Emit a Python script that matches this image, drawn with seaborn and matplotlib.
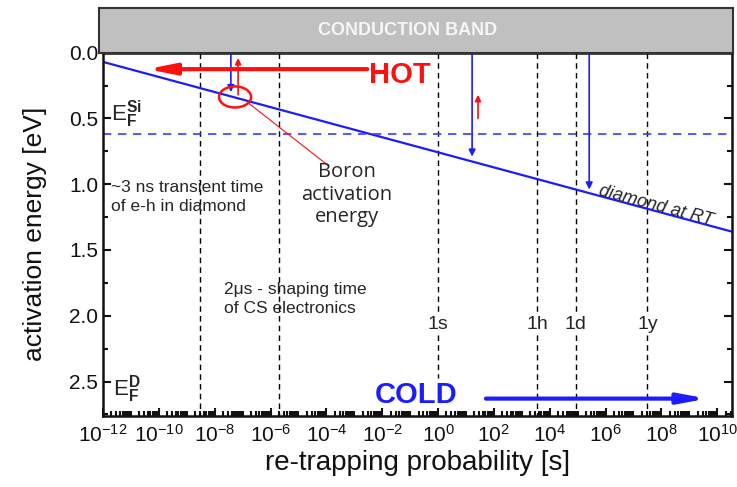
import numpy as np
import matplotlib
matplotlib.use('Agg')
import matplotlib.pyplot as plt
from matplotlib.patches import Ellipse
from matplotlib.ticker import FixedLocator, LogLocator, LogFormatterSciNotation, MultipleLocator, NullFormatter
import seaborn as sns

# Passo 1
tempo_diamante = [1e-12, 3.3e10]       # re-trapping probability [s]
energia_diamante = [0.07, 1.36]        # activation energy [eV] (diamond at RT)
energia_fermi_si = 0.62                # E_F^Si

tempos_ref = [3e-9, 2e-6, 1, 3600, 86400, 3.15e7]   # linhas verticais
rotulos_ref = ['', '', '1s', '1h', '1d', '1y']
fim_ref = [2.76, 2.76, 2.47, 2.76, 2.76, 2.76]

# setas verticais (tempo, energia inicial, energia final)
setas_azuis_t = [3.8e-8, 16.6, 2.6e5]
setas_azuis_fim = [0.30, 0.79, 1.04]
setas_vermelhas_t = [6.9e-8, 27]
setas_vermelhas_ini = [0.32, 0.50]
setas_vermelhas_fim = [0.04, 0.32]

# setas HOT / COLD
hot_t = [2.9e-3, 3.8e-11]
hot_e = 0.125
cold_t = [52, 4.3e9]
cold_e = 2.63

ticks_x = [10.0 ** k for k in range(-12, 11, 2)]
ticks_y = [0.0, 0.5, 1.0, 1.5, 2.0, 2.5]

# Passo 2 - Estilo
sns.set_style('ticks')
plt.rcParams['font.family'] = ['Liberation Sans', 'DejaVu Sans']
plt.rcParams['mathtext.fontset'] = 'custom'
plt.rcParams['mathtext.rm'] = 'Liberation Sans'
plt.rcParams['mathtext.bf'] = 'Liberation Sans:bold'
plt.rcParams['mathtext.it'] = 'Liberation Sans:italic'

azul = '#1c1cff'
vermelho = '#ff1010'

fig = plt.figure(figsize=(7.37, 4.87), dpi=100)
ax = fig.add_axes([0.1398, 0.1464, 0.853, 0.7454])

# Passo 3 - Linhas principais
sns.lineplot(x=tempo_diamante, y=energia_diamante, ax=ax, color=azul, lw=1.6)
ax.axhline(energia_fermi_si, color='#3a3aff', ls=(0, (5, 4)), lw=1.2)

for t, rot, fim in zip(tempos_ref, rotulos_ref, fim_ref):
    ax.vlines(t, 0, fim, color='k', ls=(0, (4, 3)), lw=1.0, zorder=1)
    if rot:
        ax.text(t, 2.07, rot, ha='center', va='center', fontsize=14,
                bbox=dict(fc='white', ec='none', pad=0.5), zorder=2)

# setas finas
for t, fim in zip(setas_azuis_t, setas_azuis_fim):
    ax.annotate('', xy=(t, fim), xytext=(t, 0.0),
                arrowprops=dict(arrowstyle='-|>', color=azul, lw=1.2,
                                mutation_scale=10, shrinkA=0, shrinkB=0))
for t, ini, fim in zip(setas_vermelhas_t, setas_vermelhas_ini, setas_vermelhas_fim):
    ax.annotate('', xy=(t, fim), xytext=(t, ini),
                arrowprops=dict(arrowstyle='-|>', color=vermelho, lw=1.2,
                                mutation_scale=9, shrinkA=0, shrinkB=0))

# HOT e COLD
ax.annotate('', xy=(hot_t[1], hot_e), xytext=(hot_t[0], hot_e),
            arrowprops=dict(arrowstyle='-|>,head_length=1.6,head_width=0.32', color=vermelho,
                            lw=3, mutation_scale=10, shrinkA=0, shrinkB=0))
ax.text(3.3e-3, 0.17, 'HOT', color=vermelho, fontsize=21, fontweight='bold', ha='left', va='center')
ax.annotate('', xy=(cold_t[1], cold_e), xytext=(cold_t[0], cold_e),
            arrowprops=dict(arrowstyle='-|>,head_length=1.6,head_width=0.3', color=azul,
                            lw=3, mutation_scale=10, shrinkA=0, shrinkB=0))
ax.text(5.5e-3, 2.60, 'COLD', color=azul, fontsize=21, fontweight='bold', ha='left', va='center')

# elipse e texto do Boro
ax.add_patch(Ellipse((0.21, 0.878), 0.051, 0.058, transform=ax.transAxes,
                     fill=False, ec=vermelho, lw=1.8, zorder=5))
ax.annotate('', xy=(1.45e-7, 0.375), xytext=(1.2e-4, 0.86),
            arrowprops=dict(arrowstyle='-', color=vermelho, lw=0.8, shrinkA=0, shrinkB=0))
ax.text(5.5e-4, 1.08, 'Boron\nactivation\nenergy', ha='center', va='center',
        fontsize=14.5, family=['Open Sans', 'DejaVu Sans'], linespacing=1.15)

# textos
ax.text(2.0e-12, 0.47, r'$\mathregular{E}_{\mathbf{F}}^{\mathbf{Si}}$', fontsize=16, ha='left', va='center')
ax.text(2.3e-12, 2.56, r'$\mathregular{E}_{\mathbf{F}}^{\mathbf{D}}$', fontsize=16, ha='left', va='center')
ax.text(1.9e-12, 1.10, '~3 ns transient time\nof e-h in diamond', fontsize=12.5,
        ha='left', va='center', linespacing=1.35)
ax.text(2.1e-8, 1.875, '2\u03bcs - shaping time\nof CS electronics', fontsize=12.5,
        ha='left', va='center', linespacing=1.35)
ax.text(5.3e5, 1.08, 'diamond at RT', fontsize=13, style='italic', rotation=-15,
        rotation_mode='anchor', ha='left', va='baseline')

# Passo 4 - Eixos
ax.set_xscale('log')
ax.set_xlim(1e-12, 3.3e10)
ax.set_ylim(2.76, 0.0)
ax.xaxis.set_major_locator(FixedLocator(ticks_x))
ax.xaxis.set_major_formatter(LogFormatterSciNotation())
ax.xaxis.set_minor_locator(LogLocator(base=10, subs=np.arange(1, 10), numticks=200))
ax.xaxis.set_minor_formatter(NullFormatter())
ax.yaxis.set_major_locator(FixedLocator(ticks_y))
ax.yaxis.set_minor_locator(MultipleLocator(0.25))
ax.tick_params(which='both', direction='in', top=False, right=True, width=1.5, colors='#111111')
ax.tick_params(which='major', length=6, labelsize=15)
ax.tick_params(which='minor', length=3.5)
ax.tick_params(axis='x', pad=6)
for s in ax.spines.values():
    s.set_linewidth(1.8)
    s.set_color('#111111')
ax.set_xlabel('re-trapping probability [s]', fontsize=20, labelpad=3, color='#111111')
ax.set_ylabel('activation energy [eV]', fontsize=19, labelpad=16, color='#111111')

# faixa "CONDUCTION BAND"
banda = fig.add_axes([0.1343, 0.8918, 0.8603, 0.0918])
banda.set_facecolor('#c0c0c0')
banda.set_xticks([])
banda.set_yticks([])
for s in banda.spines.values():
    s.set_color('#333333')
    s.set_linewidth(1.5)
banda.text(0.486, 0.5, 'CONDUCTION BAND', color='#f6f6f6', fontsize=13, fontweight='bold',
           ha='center', va='center', transform=banda.transAxes)

plt.savefig('out.png', dpi=100)
